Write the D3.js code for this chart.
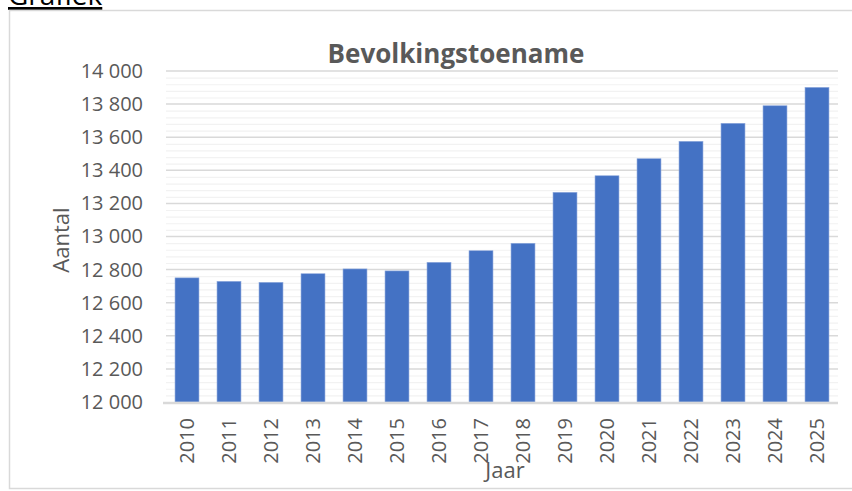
<!DOCTYPE html>
<html>
<head>
<meta charset="utf-8">
<script src="https://cdn.jsdelivr.net/npm/d3@7"></script>
<style>
  html, body { margin: 0; padding: 0; background: #fff; }
  svg { display: block; font-family: "Open Sans", Lato, sans-serif; }
</style>
</head>
<body>
<svg id="chart" width="852" height="491"></svg>
<script>
const years = ['2010', '2011', '2012', '2013', '2014', '2015', '2016', '2017',
    '2018', '2019', '2020', '2021', '2022', '2023', '2024', '2025'];
const population = [12750, 12729, 12723, 12775, 12804, 12792, 12844, 12914,
    12959, 13267, 13367, 13470, 13575, 13684, 13790, 13901];
const majorTicks = [12000, 12200, 12400, 12600, 12800, 13000, 13200, 13400, 13600, 13800, 14000];
const minorTicks = d3.range(12000, 14000, 40);

const chartTitle = 'Bevolkingstoename';
const xTitle = 'Jaar';
const yTitle = 'Aantal';

const svg = d3.select('#chart');
const font = '"Open Sans", Lato, sans-serif';
const plot = { left: 166, right: 838, top: 71, bottom: 402 };

const fmt = v => d3.format(',')(v).replace(/,/g, ' ');

// heading above the chart box (cut off at the top, as in the original)
svg.append('text')
    .attr('x', 8).attr('y', 5)
    .attr('font-size', 28)
    .attr('fill', '#000')
    .attr('text-decoration', 'underline')
    .text('Grafiek');

// chart box
svg.append('rect')
    .attr('x', 9.5).attr('y', 10.5)
    .attr('width', 850).attr('height', 478)
    .attr('fill', '#fff')
    .attr('stroke', '#d9d9d9')
    .attr('stroke-width', 1.5);

const x = d3.scaleBand()
    .domain(years)
    .range([plot.left, plot.right])
    .paddingInner(0.43)
    .paddingOuter(0.215);

const y = d3.scaleLinear()
    .domain([12000, 14000])
    .range([plot.bottom, plot.top]);

// minor gridlines
svg.append('g')
    .selectAll('line')
    .data(minorTicks.filter(v => v % 200 !== 0))
    .join('line')
    .attr('x1', plot.left).attr('x2', plot.right)
    .attr('y1', d => y(d) + 0.5).attr('y2', d => y(d) + 0.5)
    .attr('stroke', '#f2f2f2')
    .attr('stroke-width', 1.2);

// major gridlines
svg.append('g')
    .selectAll('line')
    .data(majorTicks.slice(1))
    .join('line')
    .attr('x1', plot.left).attr('x2', plot.right)
    .attr('y1', d => y(d)).attr('y2', d => y(d))
    .attr('stroke', '#d9d9d9')
    .attr('stroke-width', 1.5);

// y axis labels
const yAxis = svg.append('g')
    .attr('transform', `translate(${plot.left}, 0)`)
    .call(d3.axisLeft(y).tickValues(majorTicks).tickFormat(fmt).tickSize(0).tickPadding(23));
yAxis.select('.domain').remove();
yAxis.selectAll('text')
    .attr('font-family', font)
    .attr('font-size', 20)
    .attr('fill', '#595959');

// bars
svg.append('g')
    .selectAll('rect')
    .data(years.map((year, i) => ({ year, value: population[i] })))
    .join('rect')
    .attr('x', d => x(d.year))
    .attr('y', d => y(d.value))
    .attr('width', x.bandwidth())
    .attr('height', d => y(12000) - y(d.value))
    .attr('fill', '#4472c4')
    .attr('stroke', '#8faadc')
    .attr('stroke-width', 0.6);

// x axis
const xAxis = svg.append('g')
    .attr('transform', `translate(0, ${plot.bottom})`)
    .call(d3.axisBottom(x).tickSize(0).tickPadding(0));
xAxis.select('.domain')
    .attr('stroke', '#d9d9d9')
    .attr('stroke-width', 2.5)
    .attr('d', `M${plot.left - 3},1H${plot.right}`);
xAxis.selectAll('text')
    .attr('font-family', font)
    .attr('font-size', 20)
    .attr('fill', '#595959')
    .attr('text-anchor', 'end')
    .attr('dy', '0.35em')
    .attr('transform', 'translate(0, 16) rotate(-90)');

// titles
svg.append('text')
    .attr('x', 456).attr('y', 63)
    .attr('text-anchor', 'middle')
    .attr('font-size', 26)
    .attr('font-weight', 'bold')
    .attr('fill', '#595959')
    .text(chartTitle);

svg.append('text')
    .attr('transform', 'translate(69, 240) rotate(-90)')
    .attr('text-anchor', 'middle')
    .attr('font-size', 22)
    .attr('fill', '#595959')
    .text(yTitle);

svg.append('text')
    .attr('x', 505).attr('y', 478)
    .attr('text-anchor', 'middle')
    .attr('font-size', 22)
    .attr('fill', '#595959')
    .text(xTitle);
</script>
</body>
</html>
